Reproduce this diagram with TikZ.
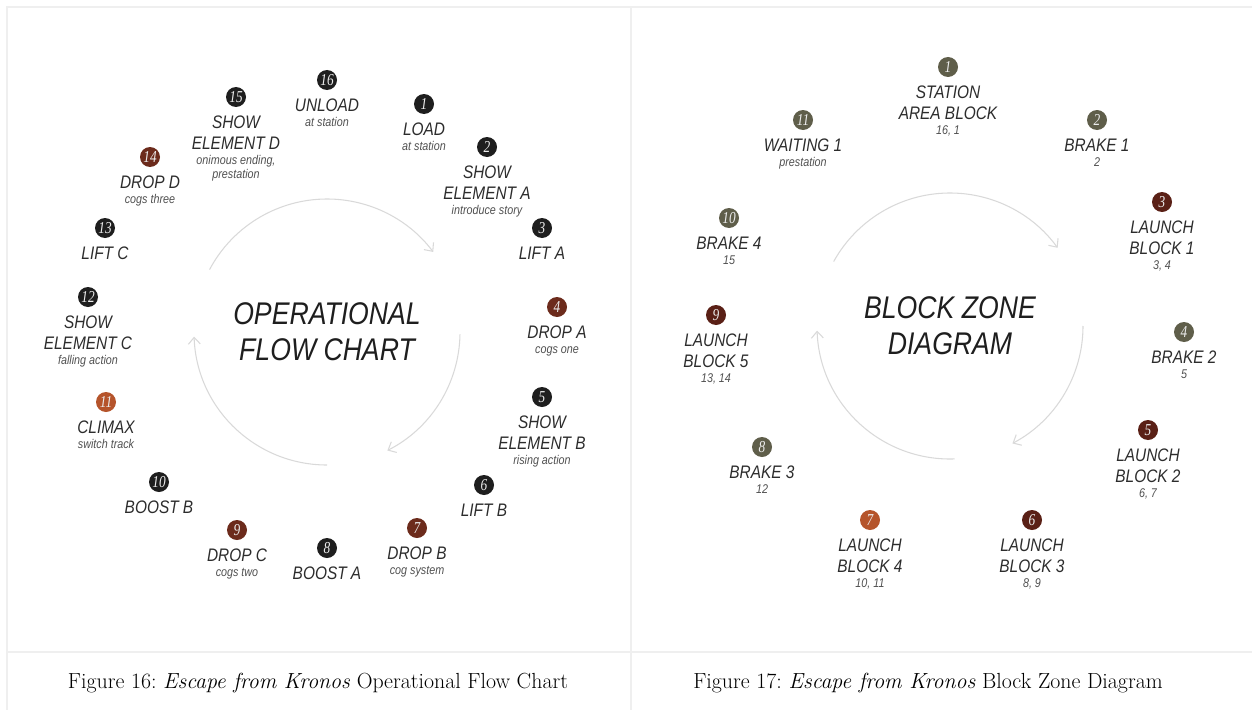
\documentclass[tikz,border=0pt]{standalone}
\usepackage{fontspec}
\usetikzlibrary{positioning,arrows.meta}
\newfontfamily\lab[FakeStretch=0.85]{Liberation Sans}
\newfontfamily\chiffre[FakeStretch=0.8]{Liberation Serif}
\frenchspacing

\definecolor{noir}{HTML}{1E1E1E}
\definecolor{brun}{HTML}{6C2B1C}
\definecolor{rouille}{HTML}{B5542B}
\definecolor{kaki}{HTML}{5F5E4A}
\definecolor{bordeaux}{HTML}{5A2016}
\definecolor{texte}{HTML}{2C2C2C}
\definecolor{gris}{HTML}{505050}
\definecolor{trait}{HTML}{EFEFEF}
\definecolor{fleche}{HTML}{D9D9D9}

\newcommand\soustitre[1]{{\fontsize{9.5}{11}\selectfont\color{gris}#1}}

\tikzset{
  pastille/.style={circle, fill=#1, minimum size=15pt, inner sep=0pt,
    text=white!85!gray, font=\chiffre\itshape\fontsize{12.5}{12.5}\selectfont},
  etiquette/.style={align=center, inner sep=0pt, text=texte,
    font=\lab\itshape\fontsize{13.6}{15.75}\selectfont},
  titre/.style={align=center, inner sep=0pt, text=noir,
    font=\lab\itshape\fontsize{23.5}{27}\selectfont},
  legende/.style={inner sep=0pt, font=\fontsize{16.4}{19}\selectfont},
  boucle/.style={draw=fleche, line width=0.8pt, -{Straight Barb[length=5pt,width=9pt]}},
  cadre/.style={draw=trait, line width=2.2pt}
}

\begin{document}
\begin{tikzpicture}[x=0.75pt,y=-0.75pt]
\def \Rayon {133};
\def \Ecart {6.5pt};

\useasboundingbox (0,0) rectangle (1252,710);

%les cadres
\draw[cadre] (7,710) -- (7,7) -- (1252,7);
\draw[cadre] (631,7) -- (631,710);
\draw[cadre] (7,652) -- (1252,652);

%le diagramme de fonctionnement
\begin{scope}
\coordinate (C) at (327,332);

\draw[boucle] (C) ++(-152:\Rayon) arc[start angle=-152, end angle=-37, radius=\Rayon];% haut
\draw[boucle] (C) ++(1:\Rayon) arc[start angle=1, end angle=63, radius=\Rayon];% droite
\draw[boucle] (C) ++(90:\Rayon) arc[start angle=90, end angle=178, radius=\Rayon];% gauche

\node[titre] (titre1) at (C) {OPERATIONAL\\FLOW CHART};

\node[pastille=noir] (o1) at (424,104) {1};
\node[etiquette, below=\Ecart of o1] (e1) {LOAD\\[-5pt]\soustitre{at station}};
\node[pastille=noir] (o2) at (487,147) {2};
\node[etiquette, below=\Ecart of o2] (e2) {SHOW\\ELEMENT A\\[-5pt]\soustitre{introduce story}};
\node[pastille=noir] (o3) at (542,228) {3};
\node[etiquette, below=\Ecart of o3] (e3) {LIFT A};
\node[pastille=brun] (o4) at (557,307) {4};
\node[etiquette, below=\Ecart of o4] (e4) {DROP A\\[-5pt]\soustitre{cogs one}};
\node[pastille=noir] (o5) at (542,397) {5};
\node[etiquette, below=\Ecart of o5] (e5) {SHOW\\ELEMENT B\\[-5pt]\soustitre{rising action}};
\node[pastille=noir] (o6) at (484,485) {6};
\node[etiquette, below=\Ecart of o6] (e6) {LIFT B};
\node[pastille=brun] (o7) at (417,528) {7};
\node[etiquette, below=\Ecart of o7] (e7) {DROP B\\[-5pt]\soustitre{cog system}};
\node[pastille=noir] (o8) at (327,548) {8};
\node[etiquette, below=\Ecart of o8] (e8) {BOOST A};
\node[pastille=brun] (o9) at (237,530) {9};
\node[etiquette, below=\Ecart of o9] (e9) {DROP C\\[-5pt]\soustitre{cogs two}};
\node[pastille=noir] (o10) at (159,482) {10};
\node[etiquette, below=\Ecart of o10] (e10) {BOOST B};
\node[pastille=rouille] (o11) at (106,402) {11};
\node[etiquette, below=\Ecart of o11] (e11) {CLIMAX\\[-5pt]\soustitre{switch track}};
\node[pastille=noir] (o12) at (88,297) {12};
\node[etiquette, below=\Ecart of o12] (e12) {SHOW\\ELEMENT C\\[-5pt]\soustitre{falling action}};
\node[pastille=noir] (o13) at (105,228) {13};
\node[etiquette, below=\Ecart of o13] (e13) {LIFT C};
\node[pastille=brun] (o14) at (150,157) {14};
\node[etiquette, below=\Ecart of o14] (e14) {DROP D\\[-5pt]\soustitre{cogs three}};
\node[pastille=noir] (o15) at (236,97) {15};
\node[etiquette, below=\Ecart of o15] (e15) {SHOW\\ELEMENT D\\[-5pt]\soustitre{onimous ending,}\\[-5pt]\soustitre{prestation}};
\node[pastille=noir] (o16) at (327,80) {16};
\node[etiquette, below=\Ecart of o16] (e16) {UNLOAD\\[-5pt]\soustitre{at station}};

\node[legende] (leg1) at (318,683) {Figure 16: \textit{Escape from Kronos} Operational Flow Chart};
\end{scope}

%le diagramme des cantons
\begin{scope}
\coordinate (C) at (950,326);

\draw[boucle] (C) ++(-151:\Rayon) arc[start angle=-151, end angle=-36, radius=\Rayon];% haut
\draw[boucle] (C) ++(0:\Rayon) arc[start angle=0, end angle=62, radius=\Rayon];% droite
\draw[boucle] (C) ++(88:\Rayon) arc[start angle=88, end angle=178, radius=\Rayon];% gauche

\node[titre] (titre2) at (C) {BLOCK ZONE\\DIAGRAM};

\node[pastille=kaki] (b1) at (948,67) {1};
\node[etiquette, below=\Ecart of b1] (c1) {STATION\\AREA BLOCK\\[-5pt]\soustitre{16, 1}};
\node[pastille=kaki] (b2) at (1097,120) {2};
\node[etiquette, below=\Ecart of b2] (c2) {BRAKE 1\\[-5pt]\soustitre{2}};
\node[pastille=bordeaux] (b3) at (1162,202) {3};
\node[etiquette, below=\Ecart of b3] (c3) {LAUNCH\\BLOCK 1\\[-5pt]\soustitre{3, 4}};
\node[pastille=kaki] (b4) at (1184,332) {4};
\node[etiquette, below=\Ecart of b4] (c4) {BRAKE 2\\[-5pt]\soustitre{5}};
\node[pastille=bordeaux] (b5) at (1148,430) {5};
\node[etiquette, below=\Ecart of b5] (c5) {LAUNCH\\BLOCK 2\\[-5pt]\soustitre{6, 7}};
\node[pastille=bordeaux] (b6) at (1032,520) {6};
\node[etiquette, below=\Ecart of b6] (c6) {LAUNCH\\BLOCK 3\\[-5pt]\soustitre{8, 9}};
\node[pastille=rouille] (b7) at (870,520) {7};
\node[etiquette, below=\Ecart of b7] (c7) {LAUNCH\\BLOCK 4\\[-5pt]\soustitre{10, 11}};
\node[pastille=kaki] (b8) at (762,447) {8};
\node[etiquette, below=\Ecart of b8] (c8) {BRAKE 3\\[-5pt]\soustitre{12}};
\node[pastille=bordeaux] (b9) at (716,315) {9};
\node[etiquette, below=\Ecart of b9] (c9) {LAUNCH\\BLOCK 5\\[-5pt]\soustitre{13, 14}};
\node[pastille=kaki] (b10) at (729,218) {10};
\node[etiquette, below=\Ecart of b10] (c10) {BRAKE 4\\[-5pt]\soustitre{15}};
\node[pastille=kaki] (b11) at (803,120) {11};
\node[etiquette, below=\Ecart of b11] (c11) {WAITING 1\\[-5pt]\soustitre{prestation}};

\node[legende] (leg2) at (928,683) {Figure 17: \textit{Escape from Kronos} Block Zone Diagram};
\end{scope}

\end{tikzpicture}
\end{document}
